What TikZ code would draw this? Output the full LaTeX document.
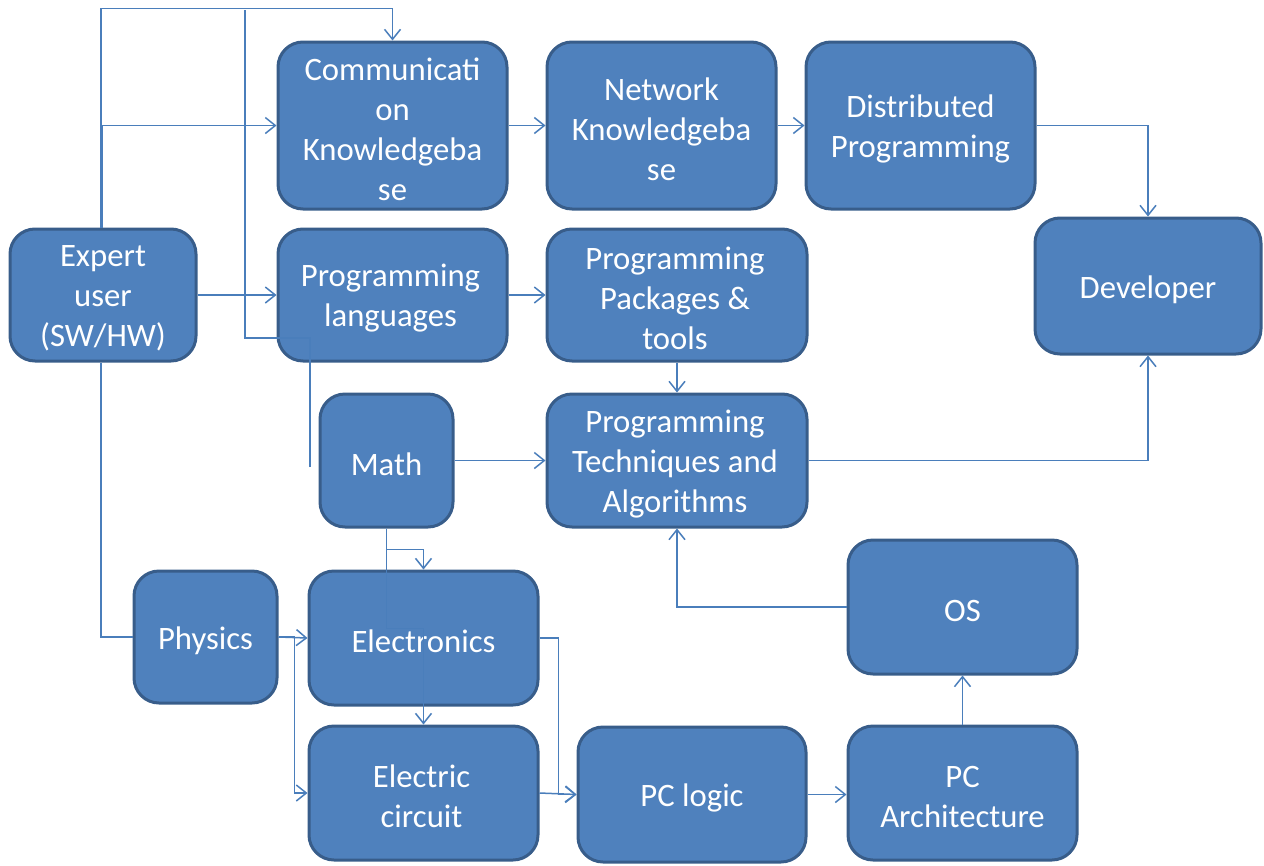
\documentclass[tikz,border=0pt]{standalone}
\usepackage{fontspec}
\setmainfont{Carlito}
\usetikzlibrary{arrows.meta,calc}
\definecolor{boxfill}{HTML}{4F81BD}
\definecolor{boxline}{HTML}{385D8A}
\definecolor{conn}{HTML}{4A7EBB}
\begin{document}
\begin{tikzpicture}[x=1pt,y=-1pt,
 box/.style={draw=boxline, line width=3pt, fill=boxfill, rounded corners=25pt, inner sep=0pt},
 boxtext/.style={text=white, align=center, inner sep=0pt, yshift=-3.5pt, font=\fontsize{32.7}{40}\selectfont},
 link/.style={draw=conn, line width=1.5pt, -{Straight Barb[length=10pt,width=16pt]}},
 plain/.style={draw=conn, line width=1.5pt}]
\useasboundingbox (0,0) rectangle (1264,865);
% nodes
\node[box, minimum width=229pt, minimum height=167pt, label={[boxtext]center:{Communicati\\on\\Knowledgeba\\se}}] (comm) at (392.5,125.5) {};
\node[box, minimum width=229pt, minimum height=167pt, label={[boxtext]center:{Network\\Knowledgeba\\se}}] (net) at (661.5,125.5) {};
\node[box, minimum width=229pt, minimum height=167pt, label={[boxtext]center:{Distributed\\Programming}}] (dist) at (920.5,125.5) {};
\node[box, minimum width=186pt, minimum height=132pt, label={[boxtext]center:{Expert\\user\\(SW/HW)}}] (expert) at (103,295) {};
\node[box, minimum width=229pt, minimum height=132pt, label={[boxtext,xshift=-2pt]center:{Programming\\languages}}] (proglang) at (392.5,295) {};
\node[box, minimum width=260pt, minimum height=132pt, label={[boxtext,xshift=-2pt]center:{Programming\\Packages \&\\tools}}] (pkg) at (677,295) {};
\node[box, minimum width=226pt, minimum height=136pt, label={[boxtext]center:{Developer}}] (dev) at (1148,286) {};
\node[box, minimum width=133pt, minimum height=133pt, label={[boxtext]center:{Math}}] (math) at (386.5,460.5) {};
\node[box, minimum width=260pt, minimum height=133pt, label={[boxtext,xshift=-2pt]center:{Programming\\Techniques and\\Algorithms}}] (tech) at (677,460.5) {};
\node[box, minimum width=229pt, minimum height=134pt, label={[boxtext]center:{OS}}] (os) at (962.5,607) {};
\node[box, minimum width=143pt, minimum height=132pt, label={[boxtext]center:{Physics}}] (phys) at (205.5,637) {};
\node[box, minimum width=229pt, minimum height=134pt, label={[boxtext]center:{Electronics}}] (elec) at (423.5,638) {};
\node[box, minimum width=229pt, minimum height=134pt, label={[boxtext,xshift=-2pt]center:{Electric\\circuit}}] (circ) at (423.5,793) {};
\node[box, minimum width=228pt, minimum height=135pt, label={[boxtext]center:{PC logic}}] (pclogic) at (692,794.5) {};
\node[box, minimum width=229pt, minimum height=134pt, label={[boxtext]center:{PC\\Architecture}}] (pcarch) at (962.5,793) {};
% connectors
\draw[link] ([xshift=-2pt]expert.north) -- ++(0,-219) -| (comm.north);
\draw[link] ([xshift=-0.5pt]expert.north) |- (comm.west);
\draw[plain] ([xshift=-2pt]expert.south) |- (phys.west);
\coordinate (topj) at (245,10);
\coordinate (bend) at (245,338);
\coordinate (mfree) at (310,467);
\draw[plain] (mfree) |- (bend) -- (topj);
\draw[link] (expert.east) -- (proglang.west);
\draw[link] (comm.east) -- (net.west);
\draw[link] (net.east) -- (dist.west);
\draw[link] (dist.east) -| (dev.north);
\draw[link] (proglang.east) -- (pkg.west);
\draw[link] (pkg.south) -- (tech.north);
\draw[link] (math.east) -- (tech.west);
\draw[link] (tech.east) -| (dev.south);
\draw[link] (os.west) -| (tech.south);
\draw[link] (pcarch.north) -- (os.south);
\draw[link] (pclogic.east) -- (pclogic.east -| pcarch.west);
\draw[link] (phys.east) -- (elec.west);
\draw[link] (phys.east) -- ++(16,0) |- (circ.west);
\draw[link] (elec.east) -- ++(19,0) |- (pclogic.west);
\draw[link] (circ.east) -- (pclogic.west);
\draw[link] (math.south) -- ++(0,21) -| (elec.north);
\draw[link] (math.south) -- ++(0,100) -| (circ.north);
\end{tikzpicture}
\end{document}
